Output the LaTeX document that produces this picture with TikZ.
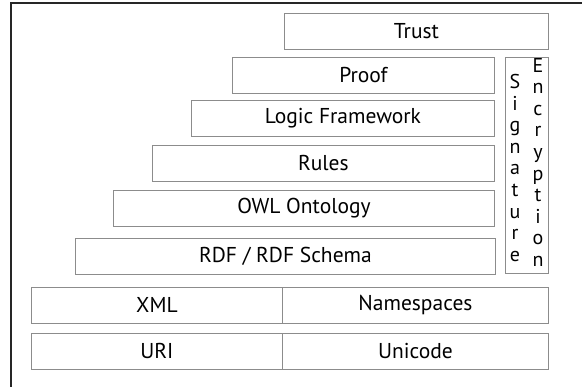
\documentclass[tikz,border=0pt]{standalone}
\usepackage{fontspec}
\setmainfont{PT Sans}
\begin{document}
\begin{tikzpicture}[x=1pt,y=-1pt,
  layer/.style={draw=black!45, line width=0.9pt, anchor=north west, inner sep=0pt,
    font=\fontsize{21.5}{23}\selectfont},
  frameline/.style={draw=black!85, line width=1.6pt},
  letters/.style={inner sep=0pt, align=center, anchor=north, font=\fontsize{20}{21.6}\selectfont}]
\useasboundingbox (0,0) rectangle (582,387);
\coordinate (fbl) at (11,387);
\coordinate (ftl) at (11,3);
\coordinate (ftr) at (582,3);
\draw[frameline] (fbl) -- (ftl) -- (ftr);
\node[layer, minimum width=264pt, minimum height=36pt] (trust) at (284,13) {Trust};
\node[layer, minimum width=262pt, minimum height=36pt] (proof) at (232,57) {Proof};
\node[layer, minimum width=303pt, minimum height=36pt] (logic) at (191,100) {Logic Framework};
\node[layer, minimum width=342pt, minimum height=36pt] (rules) at (152,145) {Rules};
\node[layer, minimum width=381pt, minimum height=36pt] (owl) at (113,190) {OWL Ontology};
\node[layer, minimum width=420pt, minimum height=36pt] (rdf) at (75,238) {RDF / RDF Schema};
\node[layer, minimum width=251pt, minimum height=36pt] (xml) at (31,287) {XML};
\node[layer, minimum width=266pt, minimum height=36pt] (ns) at (282,287) {Namespaces};
\node[layer, minimum width=251pt, minimum height=36pt] (uri) at (31,333) {URI};
\node[layer, minimum width=266pt, minimum height=36pt] (uni) at (282,333) {Unicode};
\node[layer, minimum width=43pt, minimum height=216pt] (sec) at (505,57) {};
\node[letters] (sig) at (515,74) {S\\i\\g\\n\\a\\t\\u\\r\\e};
\node[letters] (enc) at (538,58) {E\\n\\c\\r\\y\\p\\t\\i\\o\\n};
\end{tikzpicture}
\end{document}
